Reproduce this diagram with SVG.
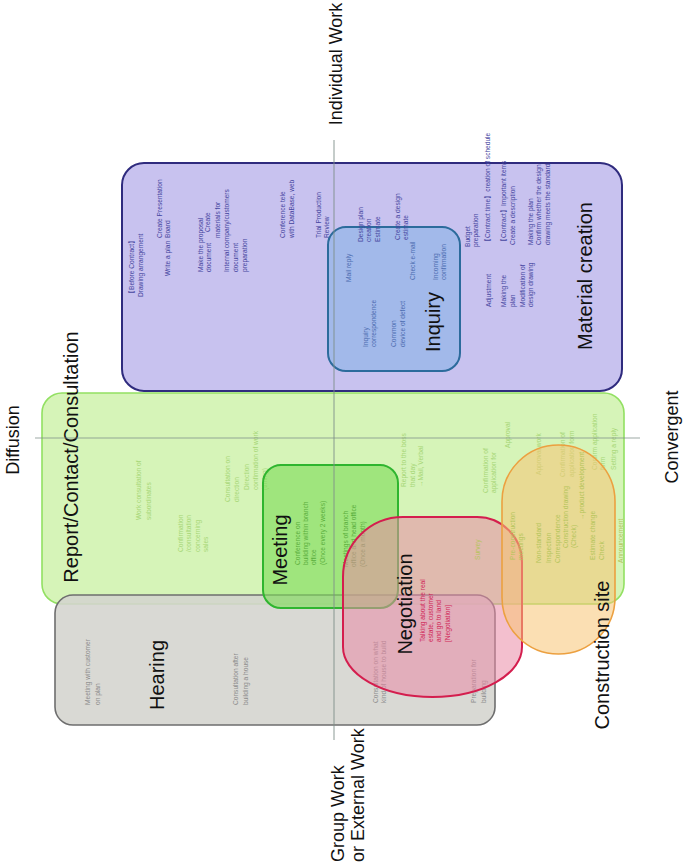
<svg xmlns="http://www.w3.org/2000/svg" width="685" height="864" viewBox="0 0 685 864">
<style>
text{font-family:"Liberation Sans",Arial,sans-serif;dominant-baseline:central}
.big{font-size:20px;fill:#111}
.ax{font-size:18px;fill:#111}
.s{font-size:6.6px}
.tp{fill:#4646a0}
.ti{fill:#4c6cb0}
.tg{fill:#a6d676}
.tm{fill:#5aae3c}
.tc{fill:#b4c45a}
.tn{fill:#d02858}
.th{fill:#8c8c8c}
.mid{text-anchor:middle}
</style>
<rect width="685" height="864" fill="#ffffff"/>

<g id="material-creation">
<rect x="122" y="163" width="500" height="228" rx="22" fill="#c8c2ef" stroke="#2f2b7e" stroke-width="2"/>
<text class="big mid" transform="translate(585 276) rotate(-90)">Material creation</text>
</g>

<g id="inquiry">
<rect x="328" y="227" width="132" height="144" rx="18" fill="#93b5e8" fill-opacity="0.72" stroke="#2c6b9c" stroke-width="2"/>
<text class="big mid" transform="translate(433 322) rotate(-90)">Inquiry</text>
<g class="s ti">
<text transform="translate(348 282) rotate(-90)">Mail reply</text>
<text transform="translate(365 347) rotate(-90)">Inquiry</text>
<text transform="translate(373 347) rotate(-90)">correspondence</text>
<text transform="translate(393 347) rotate(-90)">Common</text>
<text transform="translate(402 347) rotate(-90)">device of defect</text>
<text transform="translate(412 280) rotate(-90)">Check e-mail</text>
<text transform="translate(435 280) rotate(-90)">Incoming</text>
<text transform="translate(443 280) rotate(-90)">confirmation</text>
</g>
</g>

<g id="material-creation-items" class="s tp">
<text transform="translate(131 297) rotate(-90)">【Before Contract】</text>
<text transform="translate(140 297) rotate(-90)">Drawing arrangement</text>
<text transform="translate(159 238) rotate(-90)">Create Presentation</text>
<text transform="translate(167 238) rotate(-90)">Board</text>
<text transform="translate(167 276) rotate(-90)">Write a plan</text>
<text transform="translate(200 272) rotate(-90)">Make the proposal</text>
<text transform="translate(208 272) rotate(-90)">document</text>
<text transform="translate(207 232) rotate(-90)">Create</text>
<text transform="translate(217 238) rotate(-90)">materials for</text>
<text transform="translate(226 272) rotate(-90)">Internal company/customers</text>
<text transform="translate(235 272) rotate(-90)">document</text>
<text transform="translate(244 272) rotate(-90)">preparation</text>
<text transform="translate(282 238) rotate(-90)">Conference tele</text>
<text transform="translate(291 238) rotate(-90)">with DataBase, web</text>
<text transform="translate(318 238) rotate(-90)">Trial Production</text>
<text transform="translate(326 238) rotate(-90)">Review</text>
<text transform="translate(360 242) rotate(-90)">Design plan</text>
<text transform="translate(368 242) rotate(-90)">creation</text>
<text transform="translate(377 242) rotate(-90)">Estimate</text>
<text transform="translate(397 240) rotate(-90)">Create a design</text>
<text transform="translate(405 240) rotate(-90)">estimate</text>
<text transform="translate(467 247) rotate(-90)">Budget</text>
<text transform="translate(475 247) rotate(-90)">preparation</text>
<text transform="translate(487 245) rotate(-90)">【Contract time】creation of schedule</text>
<text transform="translate(503 245) rotate(-90)">【Contract】Important items</text>
<text transform="translate(512 245) rotate(-90)">Create a description</text>
<text transform="translate(530 245) rotate(-90)">Making the plan</text>
<text transform="translate(538 245) rotate(-90)">Confirm whether the design</text>
<text transform="translate(547 245) rotate(-90)">drawing meets the standard</text>
<text transform="translate(488 307) rotate(-90)">Adjustment</text>
<text transform="translate(503 307) rotate(-90)">Making the</text>
<text transform="translate(512 307) rotate(-90)">plan</text>
<text transform="translate(522 307) rotate(-90)">Modification of</text>
<text transform="translate(530 307) rotate(-90)">design drawing</text>
</g>

<g id="report-contact-consultation">
<rect x="42" y="393" width="582" height="211" rx="20" fill="#c6f09c" fill-opacity="0.72" stroke="#92e062" stroke-width="1.6"/>
<text class="big mid" transform="translate(71 457) rotate(-90)">Report/Contact/Consultation</text>
<g class="s tg">
<text transform="translate(138 520) rotate(-90)">Work consultation of</text>
<text transform="translate(148 520) rotate(-90)">subordinates</text>
<text transform="translate(180 552) rotate(-90)">Confirmation</text>
<text transform="translate(188 552) rotate(-90)">/consultation</text>
<text transform="translate(197 552) rotate(-90)">concerning</text>
<text transform="translate(205 552) rotate(-90)">sales</text>
<text transform="translate(227 502) rotate(-90)">Consultation on</text>
<text transform="translate(236 502) rotate(-90)">direction</text>
<text transform="translate(246 490) rotate(-90)">Direction</text>
<text transform="translate(255 490) rotate(-90)">confirmation of work</text>
<text transform="translate(264 490) rotate(-90)">(timing)</text>
<text transform="translate(403 487) rotate(-90)">Report to the boss</text>
<text transform="translate(412 487) rotate(-90)">that day</text>
<text transform="translate(420 487) rotate(-90)">→Mail, Verbal</text>
<text transform="translate(485 493) rotate(-90)">Confirmation of</text>
<text transform="translate(493 493) rotate(-90)">application for</text>
<text transform="translate(507 448) rotate(-90)">Approval</text>
<text transform="translate(538 475) rotate(-90)">Approval work</text>
<text transform="translate(562 477) rotate(-90)">Confirmation of</text>
<text transform="translate(571 477) rotate(-90)">application form</text>
<text transform="translate(594 470) rotate(-90)">Confirm application</text>
<text transform="translate(602 470) rotate(-90)">form</text>
<text transform="translate(613 470) rotate(-90)">Setting a reply</text>
</g>
</g>

<g id="hearing">
<rect x="55" y="595" width="440" height="130" rx="18" fill="#d4d4ce" fill-opacity="0.88" stroke="#6e6e6e" stroke-width="1.6"/>
<text class="big mid" transform="translate(157 675) rotate(-90)">Hearing</text>
<g class="s th">
<text transform="translate(87 705) rotate(-90)">Meeting with customer</text>
<text transform="translate(97 705) rotate(-90)">on plan</text>
<text transform="translate(235 705) rotate(-90)">Consultation after</text>
<text transform="translate(245 705) rotate(-90)">building a house</text>
<text transform="translate(375 703) rotate(-90)">Consultation on what</text>
<text transform="translate(383 703) rotate(-90)">kind of house to build</text>
<text transform="translate(473 703) rotate(-90)">Preparation for</text>
<text transform="translate(483 703) rotate(-90)">building</text>
</g>
</g>

<g id="meeting">
<rect x="263" y="465" width="135" height="143" rx="18" fill="#7edc58" fill-opacity="0.62" stroke="#2fb52f" stroke-width="2"/>
<text class="big mid" transform="translate(280 550) rotate(-90)">Meeting</text>
<g class="s tm">
<text transform="translate(297 565) rotate(-90)">Conference on</text>
<text transform="translate(305 565) rotate(-90)">building within branch</text>
<text transform="translate(313 565) rotate(-90)">office</text>
<text transform="translate(322 565) rotate(-90)">(Once every 2 weeks)</text>
<text transform="translate(345 567) rotate(-90)">Meetings of branch</text>
<text transform="translate(353 567) rotate(-90)">office and head office</text>
<text transform="translate(362 567) rotate(-90)">(Once a month)</text>
</g>
</g>

<g id="negotiation">
<path d="M403 517 H477 A45 45 0 0 1 522 562 V647 A89.5 50 0 0 1 343 647 V577 A60 60 0 0 1 403 517 Z" fill="#ea8aa6" fill-opacity="0.55" stroke="#d41e4e" stroke-width="2"/>
<text class="big mid" transform="translate(405 604) rotate(-90)">Negotiation</text>
<g class="s tn">
<text transform="translate(422 642) rotate(-90)">Talking about the real</text>
<text transform="translate(430 642) rotate(-90)">estate, customer</text>
<text transform="translate(438 642) rotate(-90)">and go to land</text>
<text transform="translate(447 642) rotate(-90)">[Negotiation]</text>
</g>
</g>

<g id="construction-site">
<rect x="502" y="445" width="113" height="209" rx="56.5" fill="#f8c474" fill-opacity="0.55" stroke="#eca040" stroke-width="1.6"/>
<text class="big mid" transform="translate(602 655) rotate(-90)">Construction site</text>
<g class="s tc">
<text transform="translate(477 560) rotate(-90)">Survey</text>
<text transform="translate(512 560) rotate(-90)">Pre-construction</text>
<text transform="translate(520 560) rotate(-90)">meetings</text>
<text transform="translate(538 563) rotate(-90)">Non-standard</text>
<text transform="translate(548 563) rotate(-90)">Inspection</text>
<text transform="translate(557 563) rotate(-90)">Correspondence</text>
<text transform="translate(565 548) rotate(-90)">Construction drawing</text>
<text transform="translate(573 548) rotate(-90)">(Check)</text>
<text transform="translate(581 520) rotate(-90)">→product development</text>
<text transform="translate(592 560) rotate(-90)">Estimate change</text>
<text transform="translate(601 560) rotate(-90)">Check</text>
<text transform="translate(620 563) rotate(-90)">Announcement</text>
</g>
</g>

<g id="axes" stroke="#7d8f8a" stroke-width="1.2" stroke-opacity="0.75">
<line x1="334" y1="140" x2="334" y2="740"/>
<line x1="35" y1="438" x2="640" y2="438"/>
</g>

<g id="axis-labels">
<text class="ax mid" transform="translate(336 64) rotate(-90)">Individual Work</text>
<text class="ax" transform="translate(338 862) rotate(-90)">Group Work</text>
<text class="ax" transform="translate(358 862) rotate(-90)">or External Work</text>
<text class="ax mid" transform="translate(13 440) rotate(-90)">Diffusion</text>
<text class="ax mid" transform="translate(672 437) rotate(-90)">Convergent</text>
</g>
</svg>
